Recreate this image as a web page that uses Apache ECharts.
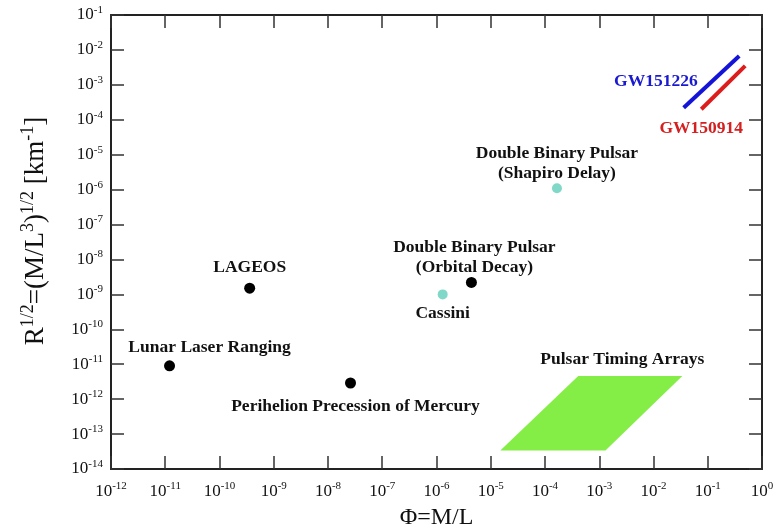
<!DOCTYPE html>
<html><head><meta charset="utf-8">
<script src="https://cdn.jsdelivr.net/npm/echarts@6/dist/echarts.min.js"></script>
<style>html,body{margin:0;padding:0;background:#fff}#c{width:783px;height:529px}</style>
</head><body><div id="c"></div>
<script>
// ---- data ----
const blackNames = ['Lunar Laser Ranging', 'LAGEOS', 'Perihelion Precession of Mercury', 'Double Binary Pulsar\n(Orbital Decay)'];
const blackX = [1.2e-11, 3.6e-10, 2.6e-8, 4.4e-6];
const blackY = [9e-12, 1.5e-9, 2.9e-12, 2.2e-9];
const tealNames = ['Cassini', 'Double Binary Pulsar\n(Shapiro Delay)'];
const tealX = [1.3e-6, 1.66e-4];
const tealY = [1.0e-9, 1.1e-6];
const gw151226X = [0.036, 0.38];
const gw151226Y = [2.2e-4, 6.7e-3];
const gw150914X = [0.076, 0.49];
const gw150914Y = [2.0e-4, 3.5e-3];
const ptaX = [1.5e-5, 4.1e-4, 0.034, 1.3e-3];
const ptaY = [3.4e-14, 4.6e-12, 4.6e-12, 3.4e-14];
const ptaName = 'Pulsar Timing Arrays';
const xMin = 1e-12, xMax = 1;
const yMin = 1e-14, yMax = 1e-1;

// label offsets (style)
const blackOffsets = [[40, -18], [0, -21], [5, 23], [3, -25]];
const tealOffsets = [[0, 19], [0, -25]];

const FONT = '"Liberation Serif", "Times New Roman", serif';
function expLabel(v) {
  const e = Math.round(Math.log10(v));
  return '{b|10}{e|' + e + '}';
}
const tickRich = {
  b: { fontFamily: FONT, fontSize: 17, color: '#111' },
  e: { fontFamily: FONT, fontSize: 11, color: '#111', padding: [0, 0, 10, 0] }
};
const annStyle = { fontFamily: FONT, fontSize: 17.5, fontWeight: 'bold', color: '#111', lineHeight: 20 };

const chart = echarts.init(document.getElementById('c'), null, { renderer: 'canvas' });
const axisLine = { show: true, lineStyle: { color: '#222', width: 2 } };
const axisTick = { show: true, inside: true, length: 13, lineStyle: { color: '#333', width: 1.5 } };

chart.setOption({
  animation: false,
  backgroundColor: '#fff',
  grid: { left: 111, right: 21, top: 15, bottom: 60, containLabel: false, outerBoundsMode: 'none' },
  xAxis: [
    { type: 'log', logBase: 10, min: xMin, max: xMax, interval: 1, position: 'bottom',
      axisLine: axisLine, axisTick: axisTick, splitLine: { show: false }, minorTick: { show: false },
      axisLabel: { formatter: expLabel, rich: tickRich, margin: 12 },
      name: 'Φ=M/L', nameLocation: 'middle', nameGap: 37,
      nameTextStyle: { fontFamily: FONT, fontSize: 24, color: '#111' } },
    { type: 'log', logBase: 10, min: xMin, max: xMax, interval: 1, position: 'top',
      axisLine: axisLine, axisTick: axisTick, splitLine: { show: false }, axisLabel: { show: false } }
  ],
  yAxis: [
    { type: 'log', logBase: 10, min: yMin, max: yMax, interval: 1, position: 'left',
      axisLine: axisLine, axisTick: axisTick, splitLine: { show: false }, minorTick: { show: false },
      axisLabel: { formatter: expLabel, rich: tickRich, margin: 8 },
      name: '{m|R}{s|1/2}{m|=(M/L}{s|3}{m|)}{s|1/2}{m| [km}{s|-1}{m|]}',
      nameLocation: 'middle', nameGap: 58, nameRotate: 90,
      nameTextStyle: { padding: [0, 0, 0, 22], rich: {
        m: { fontFamily: FONT, fontSize: 27, color: '#111' },
        s: { fontFamily: FONT, fontSize: 18, color: '#111', padding: [0, 0, 16, 0] }
      } } },
    { type: 'log', logBase: 10, min: yMin, max: yMax, interval: 1, position: 'right',
      axisLine: axisLine, axisTick: axisTick, splitLine: { show: false }, axisLabel: { show: false } }
  ],
  series: [
    { type: 'custom', xAxisIndex: 0, yAxisIndex: 0, silent: true, z: 1,
      data: ptaX.map((x, i) => [x, ptaY[i]]),
      renderItem: function (params, api) {
        if (params.dataIndex !== 0) return null;
        const pts = ptaX.map((x, i) => api.coord([x, ptaY[i]]));
        const topL = pts[1], topR = pts[2];
        return { type: 'group', children: [
          { type: 'polygon', shape: { points: pts }, style: { fill: '#84ee46', stroke: null } },
          { type: 'text', x: (topL[0] + topR[0]) / 2 - 8, y: topL[1] - 17,
            style: { text: ptaName, align: 'center', verticalAlign: 'middle',
              font: 'bold 17.5px ' + FONT, fill: '#111' } }
        ] };
      } },
    { type: 'line', xAxisIndex: 0, yAxisIndex: 0, symbol: 'circle', symbolSize: 0, showSymbol: true, z: 3,
      lineStyle: { color: '#1414d8', width: 4, cap: 'butt' }, itemStyle: { color: '#1414d8', opacity: 1 },
      label: { show: false },
      data: [
        { value: [gw151226X[0], gw151226Y[0]],
          label: { show: true, position: 'inside', formatter: 'GW151226', offset: [14, -26], align: 'right',
            fontFamily: FONT, fontSize: 17.5, fontWeight: 'bold', color: '#1a1ad0' } },
        [gw151226X[1], gw151226Y[1]]
      ] },
    { type: 'line', xAxisIndex: 0, yAxisIndex: 0, symbol: 'circle', symbolSize: 0, showSymbol: true, z: 3,
      lineStyle: { color: '#dd1c1c', width: 4, cap: 'butt' }, itemStyle: { color: '#dd1c1c', opacity: 1 },
      label: { show: false },
      data: [
        { value: [gw150914X[0], gw150914Y[0]],
          label: { show: true, position: 'inside', formatter: 'GW150914', offset: [0, 19], align: 'center',
            fontFamily: FONT, fontSize: 17.5, fontWeight: 'bold', color: '#d42020' } },
        [gw150914X[1], gw150914Y[1]]
      ] },
    { type: 'scatter', xAxisIndex: 0, yAxisIndex: 0, symbol: 'circle', symbolSize: 11, z: 4,
      itemStyle: { color: '#000', opacity: 1 },
      data: blackX.map((x, i) => ({ value: [x, blackY[i]], name: blackNames[i],
        label: Object.assign({ show: true, position: 'inside', offset: blackOffsets[i], formatter: '{b}', align: 'center' }, annStyle) })) },
    { type: 'scatter', xAxisIndex: 0, yAxisIndex: 0, symbol: 'circle', symbolSize: 10, z: 4,
      itemStyle: { color: '#80d8c8', opacity: 1 },
      data: tealX.map((x, i) => ({ value: [x, tealY[i]], name: tealNames[i],
        label: Object.assign({ show: true, position: 'inside', offset: tealOffsets[i], formatter: '{b}', align: 'center' }, annStyle) })) }
  ]
});
</script></body></html>
